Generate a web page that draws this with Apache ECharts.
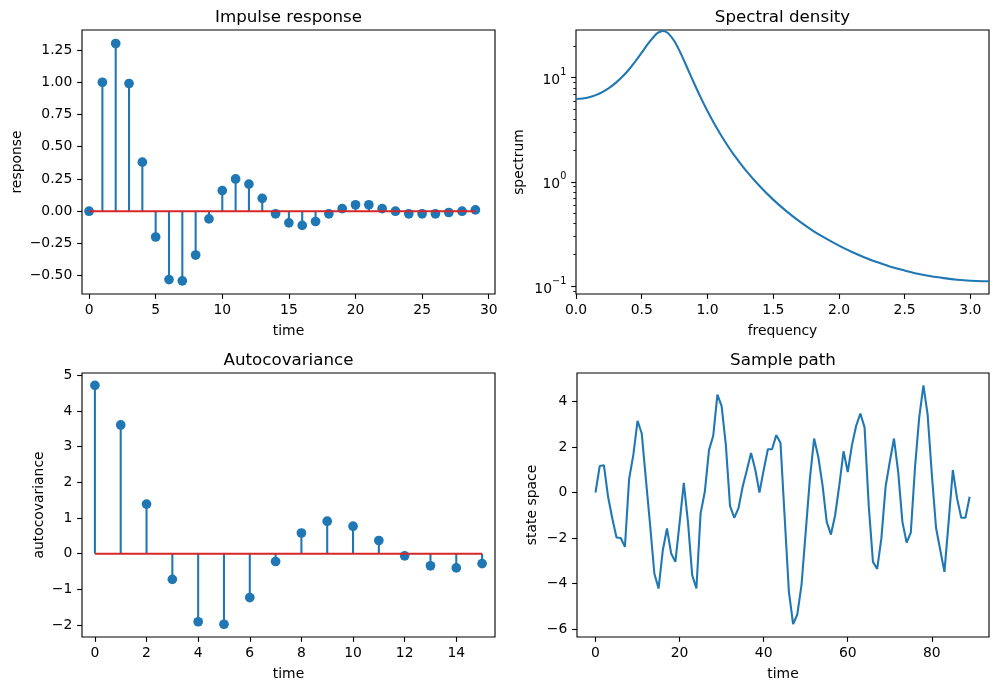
<!DOCTYPE html>
<html>
<head>
<meta charset="utf-8">
<script src="https://cdn.jsdelivr.net/npm/echarts@6/dist/echarts.min.js"></script>
<style>
html,body{margin:0;padding:0;background:#fff;}
#chart{width:998px;height:690px;}
</style>
</head>
<body>
<div id="chart"></div>
<script>
// ---------- data ----------
const impulseLags = [0,1,2,3,4,5,6,7,8,9,10,11,12,13,14,15,16,17,18,19,20,21,22,23,24,25,26,27,28,29];
const impulseValues = [0.00,1.00,1.30,0.99,0.38,-0.20,-0.53,-0.54,-0.34,-0.06,0.16,0.25,0.21,0.10,-0.02,-0.09,-0.11,-0.08,-0.02,0.02,0.05,0.05,0.02,0.00,-0.02,-0.02,-0.02,-0.01,0.00,0.01];

const frequencies = [0,0.05,0.1,0.15,0.2,0.25,0.3,0.35,0.4,0.45,0.5,0.55,0.6,0.625,0.65,0.66,0.675,0.7,0.75,0.8,0.85,0.9,0.95,1.0,1.05,1.1,1.15,1.2,1.3,1.4,1.5,1.6,1.7,1.8,1.9,2.0,2.1,2.2,2.3,2.4,2.5,2.6,2.7,2.8,2.9,3.0,3.1,3.14159];
const spectrum = [6.25,6.31,6.49,6.80,7.27,7.94,8.86,10.13,11.86,14.23,17.39,21.33,25.43,27.03,27.93,28.03,27.86,26.77,22.24,16.76,12.12,8.74,6.40,4.78,3.65,2.85,2.26,1.83,1.253,0.901,0.675,0.523,0.417,0.341,0.286,0.244,0.212,0.187,0.168,0.152,0.141,0.131,0.124,0.119,0.115,0.1124,0.1112,0.1111];

const autocovLags = [0,1,2,3,4,5,6,7,8,9,10,11,12,13,14,15];
const autocovValues = [4.72,3.61,1.39,-0.72,-1.91,-1.98,-1.23,-0.22,0.58,0.91,0.77,0.37,-0.06,-0.34,-0.40,-0.28];

const pathTimes = Array.from({length:90},(_,i)=>i);
const pathValues = [0.00,1.16,1.20,-0.20,-1.14,-1.98,-2.00,-2.39,0.60,1.65,
3.15,2.59,0.55,-1.45,-3.56,-4.22,-2.55,-1.58,-2.68,-3.05,
-1.35,0.42,-1.30,-3.63,-4.22,-0.92,0.03,1.86,2.49,4.30,
3.79,2.10,-0.59,-1.11,-0.70,0.25,0.98,1.74,1.01,0.00,
0.98,1.90,1.90,2.52,2.18,-1.10,-4.36,-5.78,-5.36,-4.07,
-1.73,0.61,2.37,1.56,0.32,-1.29,-1.85,-1.00,0.32,1.81,
0.90,2.08,2.93,3.47,2.86,-0.60,-3.05,-3.36,-2.02,0.25,
1.35,2.37,0.90,-1.29,-2.20,-1.76,1.10,3.30,4.71,3.42,
0.80,-1.55,-2.53,-3.49,-1.29,0.98,-0.26,-1.11,-1.11,-0.19];

// tick values
const impXTicks = [0,5,10,15,20,25,30];
const impYTicks = [-0.5,-0.25,0,0.25,0.5,0.75,1.0,1.25];
const specXTicks = [0,0.5,1.0,1.5,2.0,2.5,3.0];
const specYTicks = [0.1,1,10];
const specYMinor = [0.09,0.2,0.3,0.4,0.5,0.6,0.7,0.8,0.9,2,3,4,5,6,7,8,9,20];
const acXTicks = [0,2,4,6,8,10,12,14];
const acYTicks = [-2,-1,0,1,2,3,4,5];
const pathXTicks = [0,20,40,60,80];
const pathYTicks = [-6,-4,-2,0,2,4];

// ---------- styling ----------
const FONT = 'DejaVu Sans';
const BLUE = '#1f77b4';
const RED = '#d62728';
const FS = 13.9;
const LW = 2.08;
const TICK = 4.86;
function minus(s){ return s.replace('-', '\u2212'); }
function fmt(d){ return v => minus(Number(v).toFixed(d)); }

function axis(gridIndex, type, min, max, ticks, formatter, name, nameGap, isY, extra){
  const a = {
    gridIndex, type, min, max,
    axisLine:{show:false, onZero:false},
    splitLine:{show:false},
    axisTick:{show:true, customValues:ticks, length:TICK, lineStyle:{color:'#000', width:1.11}},
    axisLabel:{show:true, customValues:ticks, formatter, margin:9.7, color:'#000', fontSize:FS, fontFamily:FONT},
    name, nameLocation:'middle', nameGap,
    nameTextStyle:{color:'#000', fontSize:FS, fontFamily:FONT}
  };
  a.position = isY ? 'left' : 'bottom';
  return Object.assign(a, extra||{});
}

const grids = [
  {left:82, top:30, width:413, height:264},
  {left:576, top:30, width:413, height:264},
  {left:82, top:373, width:413, height:264},
  {left:577, top:373, width:412, height:264}
].map(g => Object.assign(g, {show:true, borderColor:'#000', borderWidth:1.11, backgroundColor:'transparent', containLabel:false}));

function stemSeries(xIdx, yIdx, xs, ys){
  return {
    type:'custom', xAxisIndex:xIdx, yAxisIndex:yIdx, z:2,
    data: xs.map((x,i)=>[x, ys[i]]),
    renderItem:(params, api)=>{
      const p0 = api.coord([api.value(0), 0]);
      const p1 = api.coord([api.value(0), api.value(1)]);
      return {type:'line', shape:{x1:p0[0], y1:p0[1], x2:p1[0], y2:p1[1]}, style:{stroke:BLUE, lineWidth:LW}};
    },
    silent:true
  };
}
function markerSeries(xIdx, yIdx, xs, ys){
  return {type:'scatter', xAxisIndex:xIdx, yAxisIndex:yIdx, z:3, symbol:'circle', symbolSize:9.7,
    itemStyle:{color:BLUE, opacity:1}, data: xs.map((x,i)=>[x, ys[i]]), silent:true};
}
function baseSeries(xIdx, yIdx, xs){
  return {type:'line', xAxisIndex:xIdx, yAxisIndex:yIdx, z:4, showSymbol:false, symbol:'none',
    lineStyle:{color:RED, width:LW}, data:[[xs[0],0],[xs[xs.length-1],0]], silent:true};
}

const logFmt = v => {
  const e = Math.round(Math.log10(v));
  return '{b|10}{s|' + minus(String(e)) + '}';
};

const option = {
  animation:false,
  backgroundColor:'#fff',
  textStyle:{fontFamily:FONT},
  title:[
    {text:'Impulse response', left:288.5, top:9},
    {text:'Spectral density', left:782.5, top:9},
    {text:'Autocovariance', left:288.5, top:352},
    {text:'Sample path', left:783, top:352}
  ].map(t => Object.assign(t, {textAlign:'center', padding:0, textStyle:{fontFamily:FONT, fontSize:16.7, fontWeight:'normal', color:'#000'}})),
  grid: grids,
  xAxis:[
    axis(0,'value',-0.53,30.47,impXTicks,fmt(0),'time',30,false),
    axis(1,'value',0,3.14159,specXTicks,fmt(1),'frequency',30,false),
    axis(2,'value',-0.5,15.5,acXTicks,fmt(0),'time',30,false),
    axis(3,'value',-4.4,93.6,pathXTicks,fmt(0),'time',30,false)
  ],
  yAxis:[
    axis(0,'value',-0.642,1.405,impYTicks,fmt(2),'response',58,true),
    axis(1,'log',0.0838,28.7,specYTicks,logFmt,'spectrum',50,true,{logBase:10}),
    axis(2,'value',-2.337,5.067,acYTicks,fmt(0),'autocovariance',36,true),
    axis(3,'value',-6.35,5.25,pathYTicks,fmt(0),'state space',38,true),
    {gridIndex:1, type:'log', logBase:10, min:0.0838, max:28.7, position:'left',
     axisLine:{show:false, onZero:false}, splitLine:{show:false}, axisLabel:{show:false},
     axisTick:{show:true, customValues:specYMinor, length:2.78, lineStyle:{color:'#000', width:0.83}}}
  ],
  series:[
    markerSeries(0,0,impulseLags,impulseValues),
    stemSeries(0,0,impulseLags,impulseValues),
    baseSeries(0,0,impulseLags),
    {type:'line', xAxisIndex:1, yAxisIndex:1, showSymbol:false, symbol:'none', smooth:0.3,
     lineStyle:{color:BLUE, width:LW}, data: frequencies.map((f,i)=>[f, spectrum[i]]), silent:true},
    markerSeries(2,2,autocovLags,autocovValues),
    stemSeries(2,2,autocovLags,autocovValues),
    baseSeries(2,2,autocovLags),
    {type:'line', xAxisIndex:3, yAxisIndex:3, showSymbol:false, symbol:'none',
     lineStyle:{color:BLUE, width:LW}, data: pathTimes.map((t,i)=>[t, pathValues[i]]), silent:true}
  ]
};
option.yAxis[1].axisLabel.rich = {
  b:{fontSize:FS, fontFamily:FONT, color:'#000', lineHeight:20, verticalAlign:'bottom'},
  s:{fontSize:9.7, fontFamily:FONT, color:'#000', lineHeight:20, verticalAlign:'top'}
};
const chart = echarts.init(document.getElementById('chart'), null, {renderer:'canvas'});
chart.setOption(option);
</script>
</body>
</html>
